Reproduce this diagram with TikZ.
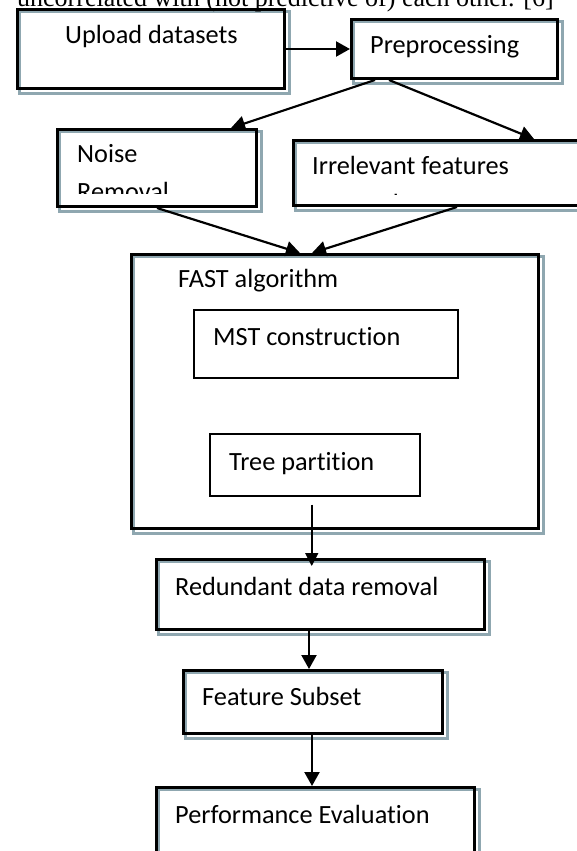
\documentclass[tikz,border=0pt]{standalone}
\usepackage{fontspec}
\setmainfont[Ligatures=NoCommon]{Carlito}
\newfontfamily\serifx{Liberation Serif}
\usetikzlibrary{arrows.meta,backgrounds}
\definecolor{shadowc}{HTML}{8FA7B0}
\tikzset{
  box/.style={draw=black, line width=3pt, inner sep=0pt, anchor=north west},
  thinbox/.style={draw=black, line width=1.5pt, inner sep=0pt, anchor=north west},
  shadowline/.style={draw=shadowc, line width=2.5pt},
  lbl/.style={inner sep=0pt, anchor=base west, font=\fontsize{26.3}{38}\selectfont},
  conn/.style={draw=black, line width=2.2pt, -{Triangle[length=14pt,width=15pt]}},
  thinconn/.style={draw=black, line width=1.6pt, -{Triangle[length=13pt,width=13pt]}}
}
\begin{document}
\begin{tikzpicture}[x=1pt,y=-1pt]
\useasboundingbox (0,0) rectangle (577,851);
\clip (0,0) rectangle (577,851);
% cut-off line of the running text above
\node[inner sep=0pt, anchor=base west, font=\serifx\fontsize{26}{30}\selectfont] (toptext) at (17,6.5) {uncorrelated with (not predictive of) each other. [6]};
% boxes
\node[box, minimum width=267pt, minimum height=79pt] (up) at (16,8) {};
\node[box, minimum width=206pt, minimum height=59pt] (pre) at (350,18) {};
\node[box, minimum width=199pt, minimum height=77pt] (noise) at (56,128) {};
\node[box, minimum width=308pt, minimum height=65pt] (irr) at (292,139) {};
\node[box, minimum width=407pt, minimum height=274pt] (fast) at (130,253) {};
\node[thinbox, minimum width=264pt, minimum height=68pt] (mst) at (193,309) {};
\node[thinbox, minimum width=210pt, minimum height=62pt] (tree) at (209,433) {};
\node[box, minimum width=328pt, minimum height=70pt] (red) at (155,558) {};
\node[box, minimum width=259pt, minimum height=63pt] (feat) at (182,669) {};
\node[box, minimum width=318pt, minimum height=100pt] (perf) at (155,786) {};
% shadows
\begin{scope}[on background layer]
\foreach \b in {up,pre,noise,irr,fast,red,feat,perf}{
  \draw[shadowline] ([shift={(3.5pt,-3.5pt)}]\b.north west) rectangle ([shift={(3.5pt,-3.5pt)}]\b.south east);
}
\end{scope}
% labels
\node[lbl] (upT) at (65,44) {Upload datasets};
\node[lbl] (preT) at (370,54) {Preprocessing};
\node[lbl] (noiseT) at (77,162) {Noise};
\begin{scope}
\clip (56,128) rectangle (255,193);
\node[lbl] (noiseT2) at (77,200) {Removal};
\end{scope}
\node[lbl] (irrT) at (312,174) {Irrelevant features};
\begin{scope}
\clip (292,139) rectangle (600,194);
\node[lbl] (irrT2) at (312,212) {removal};
\end{scope}
\node[lbl] (fastT) at (178,287) {FAST algorithm};
\node[lbl] (mstT) at (213,345) {MST construction};
\node[lbl] (treeT) at (229,470) {Tree partition};
\node[lbl] (redT) at (175,595) {Redundant data removal};
\node[lbl] (featT) at (202,705) {Feature Subset};
\node[lbl] (perfT) at (175,823) {Performance Evaluation};
% connectors
\draw[conn] (up.east) -- (pre.west);
\draw[conn] ([xshift=25pt]pre.south west) -- ([xshift=-27pt]noise.north east);
\draw[conn] ([xshift=39pt]pre.south west) -- ([xshift=242pt]irr.north west);
\draw[conn] ([xshift=101pt]noise.south west) -- ([xshift=170pt]fast.north west);
\draw[conn] ([xshift=165pt]irr.south west) -- ([xshift=182pt]fast.north west);
\draw[thinconn] ([xshift=-3pt,yshift=-8pt]tree.south) -- ([xshift=-3pt,yshift=-8pt]tree.south |- red.north);
\draw[conn] ([xshift=154pt]red.south west) -- ([xshift=154pt]red.south west |- feat.north);
\draw[conn] ([xshift=130pt]feat.south west) -- ([xshift=130pt]feat.south west |- perf.north);
\end{tikzpicture}
\end{document}
